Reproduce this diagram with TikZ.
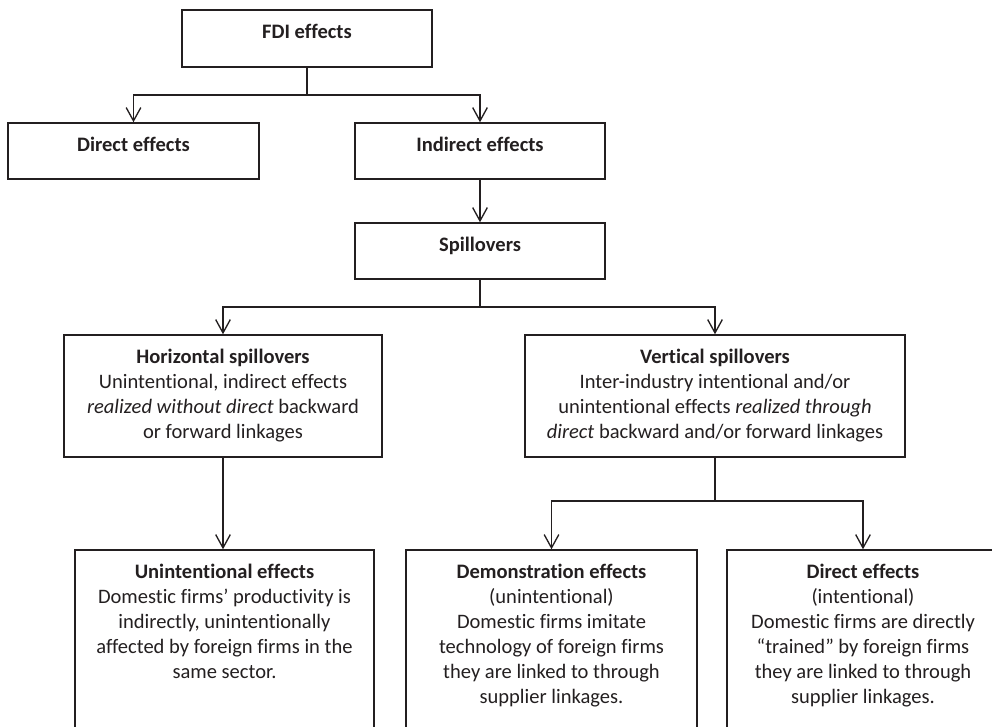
\documentclass[tikz,border=0pt]{standalone}
\usepackage{fontspec}
\setmainfont{Carlito}[Ligatures=NoCommon]
\usetikzlibrary{arrows.meta}

\definecolor{ink}{HTML}{231F20}
\newcommand{\boxcell}[3]{\parbox[c][#2][t]{#1}{\centering\fontsize{15.4pt}{18.75pt}\selectfont\rule{0pt}{21.5pt}#3}}

\tikzset{
  box/.style={draw=ink, line width=1.1pt, inner sep=0pt, fill=white, text=ink},
  arr/.style={draw=ink, line width=1pt, -{Straight Barb[length=10pt,width=11pt,line width=1pt]}}
}

\begin{document}
\begin{tikzpicture}[x=0.75pt,y=-0.75pt]
\useasboundingbox (0,0) rectangle (992,727);
\clip (0,0) rectangle (992,727);

\coordinate (j1) at (0,95);
\coordinate (j2) at (0,307);
\coordinate (j3) at (0,501);

\node[box] (fdi) at (307,38.5) {\boxcell{187.5pt}{42.75pt}{\textbf{FDI effects}}};
\node[box] (direct) at (133.5,151) {\boxcell{188.25pt}{42pt}{\textbf{Direct effects}}};
\node[box] (indirect) at (480,151) {\boxcell{187.5pt}{42pt}{\textbf{Indirect effects}}};
\node[box] (spill) at (480,251) {\boxcell{187.5pt}{42pt}{\textbf{Spillovers}}};

\node[box] (horiz) at (223,396) {\boxcell{238.5pt}{91.5pt}{\textbf{Horizontal spillovers}\\
  Unintentional, indirect effects\\
  \textit{realized without direct} backward\\
  or forward linkages}};
\node[box] (vert) at (715,396) {\boxcell{285pt}{91.5pt}{\textbf{Vertical spillovers}\\
  Inter-industry intentional and/or\\
  unintentional effects \textit{realized through}\\
  \textit{direct} backward and/or forward linkages}};

\node[box] (unint) at (224.5,650) {\boxcell{224.25pt}{150pt}{\textbf{Unintentional effects}\\
  Domestic firms’ productivity is\\
  indirectly, unintentionally\\
  affected by foreign firms in the\\
  same sector.}};
\node[box] (demo) at (551.5,650) {\boxcell{218.25pt}{150pt}{\textbf{Demonstration effects}\\
  (unintentional)\\
  Domestic firms imitate\\
  technology of foreign firms\\
  they are linked to through\\
  supplier linkages.}};
\node[box] (direct2) at (863,650) {\boxcell{204pt}{150pt}{\textbf{Direct effects}\\
  (intentional)\\
  Domestic firms are directly\\
  “trained” by foreign firms\\
  they are linked to through\\
  supplier linkages.}};

\draw[arr] (fdi.south) -- (fdi.south |- j1) -| (direct.north);
\draw[arr] (fdi.south |- j1) -| (indirect.north);
\draw[arr] (indirect.south) -- (spill.north);
\draw[arr] (spill.south) -- (spill.south |- j2) -| (horiz.north);
\draw[arr] (spill.south |- j2) -| (vert.north);
\draw[arr] (horiz.south) -- (horiz.south |- unint.north);
\draw[arr] (vert.south) -- (vert.south |- j3) -| (demo.north);
\draw[arr] (vert.south |- j3) -| (direct2.north);
\end{tikzpicture}
\end{document}
